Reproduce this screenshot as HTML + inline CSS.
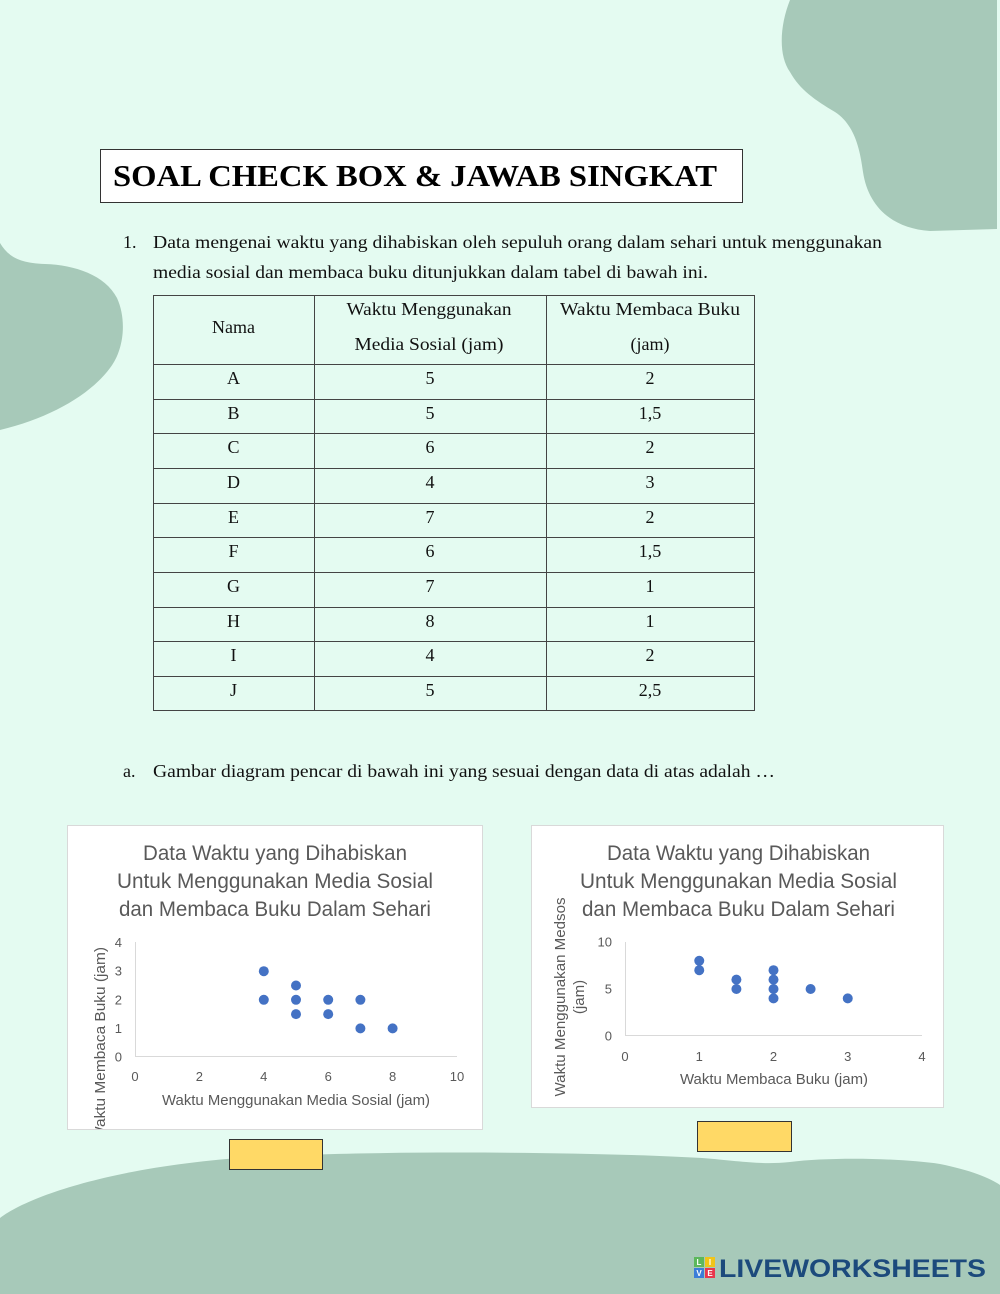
<!DOCTYPE html>
<html><head><meta charset="utf-8"><style>
html,body{margin:0;padding:0;background:#e4fbf1;}
svg{display:block}
</style></head><body>
<svg width="1000" height="1294" viewBox="0 0 1000 1294" xmlns="http://www.w3.org/2000/svg">
<defs>
<clipPath id="c1"><rect x="68" y="826" width="414" height="303"/></clipPath>
</defs>
<rect width="1000" height="1294" fill="#e4fbf1"/>
<!-- blobs -->
<path d="M790,0 C780,25 778,55 790,72 C800,90 815,100 835,112 C855,125 860,150 863,172 C868,205 890,228 930,231 L997,229 L997,0 Z" fill="#a7c9b9"/>
<path d="M0,243 C8,256 18,263 45,264 C75,265 105,275 117,298 C127,320 124,350 110,368 C90,395 50,418 0,430 Z" fill="#a7c9b9"/>
<path d="M0,1294 L0,1218 C30,1195 120,1165 255,1157 C380,1150 600,1152 702,1158 C740,1161 760,1165 790,1162 C830,1157 900,1158 940,1164 C970,1170 990,1178 1000,1185 L1000,1294 Z" fill="#a7c9b9"/>

<!-- header box -->
<rect x="100.5" y="149.5" width="642" height="53" fill="#ffffff" stroke="#333" stroke-width="1"/>
<text x="113" y="186" font-family="Liberation Serif, serif" font-weight="bold" font-size="31" fill="#000" textLength="604" lengthAdjust="spacingAndGlyphs">SOAL CHECK BOX &amp; JAWAB SINGKAT</text>

<g font-family="Liberation Serif, serif" font-size="18" fill="#111">
<text x="123" y="248">1.</text>
<text x="153" y="248" textLength="729" lengthAdjust="spacingAndGlyphs">Data mengenai waktu yang dihabiskan oleh sepuluh orang dalam sehari untuk menggunakan</text>
<text x="153" y="278" textLength="555" lengthAdjust="spacingAndGlyphs">media sosial dan membaca buku ditunjukkan dalam tabel di bawah ini.</text>
<text x="123" y="777">a.</text>
<text x="153" y="777" textLength="622" lengthAdjust="spacingAndGlyphs">Gambar diagram pencar di bawah ini yang sesuai dengan data di atas adalah …</text>
</g>

<!-- table -->
<g stroke="#444" stroke-width="1" fill="none">
<rect x="153.5" y="295.5" width="601" height="415"/>
<line x1="314.5" y1="295" x2="314.5" y2="711"/>
<line x1="546.5" y1="295" x2="546.5" y2="711"/>
<line x1="153" y1="364.5" x2="755" y2="364.5"/>
<line x1="153" y1="399.5" x2="755" y2="399.5"/>
<line x1="153" y1="433.5" x2="755" y2="433.5"/>
<line x1="153" y1="468.5" x2="755" y2="468.5"/>
<line x1="153" y1="503.5" x2="755" y2="503.5"/>
<line x1="153" y1="537.5" x2="755" y2="537.5"/>
<line x1="153" y1="572.5" x2="755" y2="572.5"/>
<line x1="153" y1="607.5" x2="755" y2="607.5"/>
<line x1="153" y1="641.5" x2="755" y2="641.5"/>
<line x1="153" y1="676.5" x2="755" y2="676.5"/>
</g>
<g font-family="Liberation Serif, serif" font-size="18" fill="#111" text-anchor="middle">
<text x="233.5" y="333">Nama</text>
<text x="429" y="315" textLength="165" lengthAdjust="spacingAndGlyphs">Waktu Menggunakan</text>
<text x="429" y="350" textLength="149" lengthAdjust="spacingAndGlyphs">Media Sosial (jam)</text>
<text x="650" y="315" textLength="180" lengthAdjust="spacingAndGlyphs">Waktu Membaca Buku</text>
<text x="650" y="350">(jam)</text>

<text x="233.5" y="384">A</text><text x="430" y="384">5</text><text x="650" y="384">2</text>
<text x="233.5" y="419">B</text><text x="430" y="419">5</text><text x="650" y="419">1,5</text>
<text x="233.5" y="453">C</text><text x="430" y="453">6</text><text x="650" y="453">2</text>
<text x="233.5" y="488">D</text><text x="430" y="488">4</text><text x="650" y="488">3</text>
<text x="233.5" y="523">E</text><text x="430" y="523">7</text><text x="650" y="523">2</text>
<text x="233.5" y="557">F</text><text x="430" y="557">6</text><text x="650" y="557">1,5</text>
<text x="233.5" y="592">G</text><text x="430" y="592">7</text><text x="650" y="592">1</text>
<text x="233.5" y="627">H</text><text x="430" y="627">8</text><text x="650" y="627">1</text>
<text x="233.5" y="661">I</text><text x="430" y="661">4</text><text x="650" y="661">2</text>
<text x="233.5" y="696">J</text><text x="430" y="696">5</text><text x="650" y="696">2,5</text>
</g>

<!-- chart 1 -->
<rect x="67.5" y="825.5" width="415" height="304" fill="#ffffff" stroke="#d9d9d9" stroke-width="1"/>
<g font-family="Liberation Sans, sans-serif" fill="#595959">
<g font-size="21" text-anchor="middle">
<text x="275" y="860" textLength="264" lengthAdjust="spacingAndGlyphs">Data Waktu yang Dihabiskan</text>
<text x="275" y="888" textLength="316" lengthAdjust="spacingAndGlyphs">Untuk Menggunakan Media Sosial</text>
<text x="275" y="916" textLength="312" lengthAdjust="spacingAndGlyphs">dan Membaca Buku Dalam Sehari</text>
</g>
<line x1="135.5" y1="942" x2="135.5" y2="1057" stroke="#d9d9d9"/>
<line x1="135" y1="1056.5" x2="457" y2="1056.5" stroke="#d9d9d9"/>
<g font-size="13" text-anchor="end">
<text x="122" y="1061.5">0</text>
<text x="122" y="1032.9">1</text>
<text x="122" y="1004.3">2</text>
<text x="122" y="975.7">3</text>
<text x="122" y="947.1">4</text>
</g>
<g font-size="13" text-anchor="middle">
<text x="135" y="1081">0</text>
<text x="199.4" y="1081">2</text>
<text x="263.8" y="1081">4</text>
<text x="328.2" y="1081">6</text>
<text x="392.6" y="1081">8</text>
<text x="457" y="1081">10</text>
</g>
<text x="296" y="1105" font-size="15" text-anchor="middle" textLength="268" lengthAdjust="spacingAndGlyphs">Waktu Menggunakan Media Sosial (jam)</text>
<g clip-path="url(#c1)">
<text transform="translate(105,947) rotate(-90)" font-size="15" text-anchor="end" textLength="194" lengthAdjust="spacingAndGlyphs">Waktu Membaca Buku (jam)</text>
</g>
</g>
<g fill="#4472c4">
<circle cx="263.8" cy="971.2" r="5"/>
<circle cx="263.8" cy="999.8" r="5"/>
<circle cx="296" cy="985.5" r="5"/>
<circle cx="296" cy="999.8" r="5"/>
<circle cx="296" cy="1014.1" r="5"/>
<circle cx="328.2" cy="999.8" r="5"/>
<circle cx="328.2" cy="1014.1" r="5"/>
<circle cx="360.4" cy="999.8" r="5"/>
<circle cx="360.4" cy="1028.4" r="5"/>
<circle cx="392.6" cy="1028.4" r="5"/>
</g>

<!-- chart 2 -->
<rect x="531.5" y="825.5" width="412" height="282" fill="#ffffff" stroke="#d9d9d9" stroke-width="1"/>
<g font-family="Liberation Sans, sans-serif" fill="#595959">
<g font-size="21" text-anchor="middle">
<text x="738.5" y="860" textLength="263" lengthAdjust="spacingAndGlyphs">Data Waktu yang Dihabiskan</text>
<text x="738.5" y="888" textLength="317" lengthAdjust="spacingAndGlyphs">Untuk Menggunakan Media Sosial</text>
<text x="738.5" y="916" textLength="313" lengthAdjust="spacingAndGlyphs">dan Membaca Buku Dalam Sehari</text>
</g>
<line x1="625.5" y1="942" x2="625.5" y2="1036" stroke="#d9d9d9"/>
<line x1="625" y1="1035.5" x2="922" y2="1035.5" stroke="#d9d9d9"/>
<g font-size="13" text-anchor="end">
<text x="612" y="1040.5">0</text>
<text x="612" y="993.5">5</text>
<text x="612" y="946.5">10</text>
</g>
<g font-size="13" text-anchor="middle">
<text x="625" y="1061">0</text>
<text x="699.25" y="1061">1</text>
<text x="773.5" y="1061">2</text>
<text x="847.75" y="1061">3</text>
<text x="922" y="1061">4</text>
</g>
<text x="774" y="1084" font-size="15" text-anchor="middle" textLength="188" lengthAdjust="spacingAndGlyphs">Waktu Membaca Buku (jam)</text>
<text transform="translate(565,997) rotate(-90)" font-size="15" text-anchor="middle" textLength="199" lengthAdjust="spacingAndGlyphs">Waktu Menggunakan Medsos</text>
<text transform="translate(584,997) rotate(-90)" font-size="15" text-anchor="middle">(jam)</text>
</g>
<g fill="#4472c4">
<circle cx="699.25" cy="960.8" r="5"/>
<circle cx="699.25" cy="970.2" r="5"/>
<circle cx="736.4" cy="979.6" r="5"/>
<circle cx="736.4" cy="989" r="5"/>
<circle cx="773.5" cy="970.2" r="5"/>
<circle cx="773.5" cy="979.6" r="5"/>
<circle cx="773.5" cy="989" r="5"/>
<circle cx="773.5" cy="998.4" r="5"/>
<circle cx="810.6" cy="989" r="5"/>
<circle cx="847.75" cy="998.4" r="5"/>
</g>

<!-- yellow boxes -->
<rect x="229.5" y="1139.5" width="93" height="30" fill="#ffd966" stroke="#333" stroke-width="1"/>
<rect x="697.5" y="1121.5" width="94" height="30" fill="#ffd966" stroke="#333" stroke-width="1"/>

<!-- logo -->
<rect x="694" y="1257" width="10" height="10" fill="#5cb85c"/>
<rect x="705" y="1257" width="10" height="10" fill="#f0c419"/>
<rect x="694" y="1268" width="10" height="10" fill="#3b7dd8"/>
<rect x="705" y="1268" width="10" height="10" fill="#e8374d"/>
<g font-family="Liberation Sans, sans-serif" font-weight="bold" font-size="8" fill="#fff" text-anchor="middle">
<text x="699" y="1265">L</text>
<text x="710" y="1265">I</text>
<text x="699" y="1276">V</text>
<text x="710" y="1276">E</text>
</g>
<text x="719" y="1277" font-family="Liberation Sans, sans-serif" font-weight="bold" font-size="25" fill="#1c4a7c" textLength="267" lengthAdjust="spacingAndGlyphs">LIVEWORKSHEETS</text>
</svg>
</body></html>
